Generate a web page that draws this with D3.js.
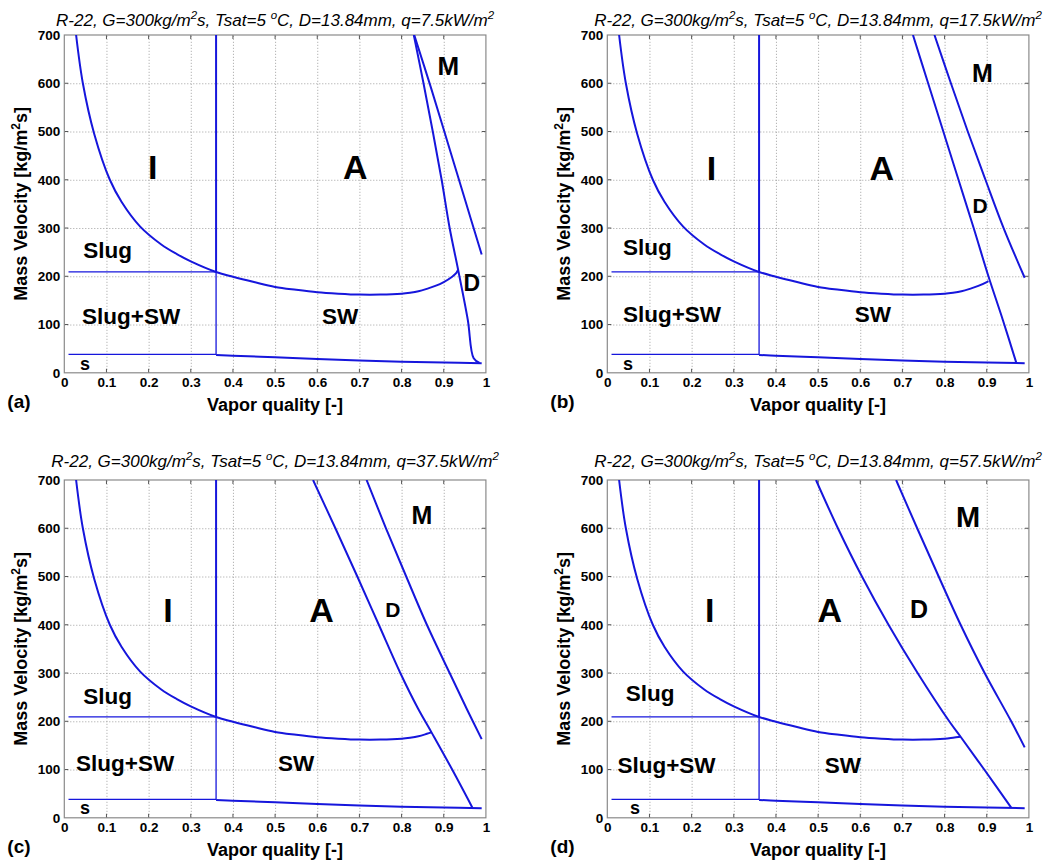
<!DOCTYPE html>
<html>
<head>
<meta charset="utf-8">
<script src="https://cdn.jsdelivr.net/npm/d3@7"></script>
<style>
  body { margin: 0; background: #fff; }
  svg { display: block; font-family: Arial, "Liberation Sans", sans-serif; }
  .grid line { stroke: #a0a0a0; stroke-dasharray: 1,2; }
  .tick-lbl text { font-size: 13.5px; font-weight: bold; fill: #000; }
</style>
</head>
<body>
<svg id="chart"></svg>
<script>
// ---- data ----
const panelIds = ["(a)", "(b)", "(c)", "(d)"];
const heatFlux = ["7.5", "17.5", "37.5", "57.5"];
const xTicks = [0, 0.1, 0.2, 0.3, 0.4, 0.5, 0.6, 0.7, 0.8, 0.9, 1];
const yTicks = [0, 100, 200, 300, 400, 500, 600, 700];

// I/A transition and the slug zone boundaries (same in every panel)
const xIA = 0.36;
const gIA = 209;
const gStratLeft = 38;
const qFirst = 0.01;

// stratified-wavy boundary, common part
const wavyQ = [0.028, 0.044, 0.071, 0.108, 0.136, 0.18, 0.23, 0.267, 0.30, 0.36, 0.40, 0.45, 0.50, 0.55, 0.60, 0.65, 0.70, 0.75, 0.80, 0.82, 0.84, 0.86, 0.88, 0.90, 0.92, 0.93];
const wavyG = [700, 600, 495, 400, 354, 303, 266, 246, 231, 209, 199, 188, 178, 172, 167, 164, 162, 162, 164, 166, 169, 174, 180, 188, 199, 207];
// where the wavy curve meets the dryout line, per panel
const wavyEnd = [[0.934, 214], [0.904, 190], [0.871, 177], [0.838, 168]];

// fully stratified boundary right of x_IA
const stratQ = [0.36, 0.40, 0.50, 0.60, 0.70, 0.80, 0.90, 0.99];
const stratG = [37, 35.5, 32, 28.5, 25.5, 23, 21.5, 20];

// dryout boundary (A / D), per panel
const dryoutA = [[0.829, 700], [0.852, 600], [0.874, 500], [0.895, 400], [0.914, 300], [0.934, 214], [0.957, 110], [0.971, 30], [0.985, 20.5]];
const dryoutB = [[0.725, 700], [0.761, 600], [0.797, 500], [0.833, 400], [0.869, 300], [0.904, 200], [0.938, 110], [0.970, 21]];
const dryoutC = [[0.59, 700], [0.643, 600], [0.695, 500], [0.746, 400], [0.797, 300], [0.838, 228], [0.871, 177], [0.92, 100], [0.968, 21]];
const dryoutD = [[0.495, 700], [0.547, 600], [0.604, 500], [0.667, 400], [0.736, 300], [0.811, 200], [0.838, 168], [0.894, 100], [0.958, 21]];

// mist boundary (D / M), per panel
const mistA = [[0.83, 700], [0.87, 590], [0.91, 475], [0.95, 360], [0.99, 245]];
const mistB = [[0.776, 700], [0.815, 600], [0.855, 500], [0.897, 400], [0.94, 300], [0.99, 197]];
const mistC = [[0.717, 700], [0.763, 600], [0.811, 500], [0.86, 400], [0.914, 300], [0.955, 225], [0.99, 163]];
const mistD = [[0.685, 700], [0.735, 600], [0.786, 500], [0.838, 400], [0.895, 300], [0.958, 200], [0.99, 146]];

const dryouts = [dryoutA, dryoutB, dryoutC, dryoutD];
const mists = [mistA, mistB, mistC, mistD];

const regionNames = ["I", "A", "M", "D", "Slug", "Slug+SW", "SW", "s"];

// ---- layout ----
const panelPos = [[64.3, 35], [607.3, 35], [64.3, 480], [607.3, 480]];
const width = 421.6, height = 337.8;
const titleGap = [9, 9, 13, 13];
const blue = "#1616dc";

// label anchor (in data units), font size, anchor – order follows regionNames
const labelLayout = [
  [[0.21, 402, 34, "middle"], [0.69, 402, 34, "middle"], [0.911, 617, 26, "middle"], [0.947, 170, 23, "start"],
   [0.045, 237, 22.5, "start"], [0.042, 101, 22.5, "start"], [0.611, 101, 22.5, "start"], [0.037, 6, 18, "start"]],
  [[0.247, 400, 34, "middle"], [0.651, 400, 34, "middle"], [0.89, 603, 25, "middle"], [0.866, 331, 21, "start"],
   [0.037, 244, 22.5, "start"], [0.037, 106, 22.5, "start"], [0.587, 106, 22.5, "start"], [0.037, 6, 18, "start"]],
  [[0.246, 405, 34, "middle"], [0.61, 405, 34, "middle"], [0.848, 609, 25, "middle"], [0.761, 417, 21, "start"],
   [0.045, 235, 22.5, "start"], [0.028, 97, 22.5, "start"], [0.507, 97, 22.5, "start"], [0.037, 8, 18, "start"]],
  [[0.243, 405, 34, "middle"], [0.528, 405, 34, "middle"], [0.856, 602, 29, "middle"], [0.718, 413, 25, "start"],
   [0.044, 242, 22.5, "start"], [0.024, 93, 22.5, "start"], [0.516, 93, 22.5, "start"], [0.054, 8, 18, "start"]]
];

const svg = d3.select("#chart")
  .attr("width", 1059)
  .attr("height", 861);

const x = d3.scaleLinear().domain([0, 1]).range([0, width]);
const y = d3.scaleLinear().domain([0, 700]).range([height, 0]);
const line = d3.line().x(d => x(d[0])).y(d => y(d[1]));
const smooth = d3.line().x(d => x(d[0])).y(d => y(d[1])).curve(d3.curveCatmullRom.alpha(0.5));

svg.append("defs").append("clipPath")
  .attr("id", "plot-clip")
  .append("rect")
  .attr("width", width)
  .attr("height", height);

panelIds.forEach((id, i) => {
  const [px, py] = panelPos[i];
  const g = svg.append("g").attr("transform", `translate(${px},${py})`);

  // grid
  g.append("g")
    .attr("class", "grid")
    .attr("transform", `translate(0,${height})`)
    .call(d3.axisBottom(x).tickValues(xTicks.slice(1, -1)).tickSize(-height).tickFormat(""))
    .call(s => s.select(".domain").remove());
  g.append("g")
    .attr("class", "grid")
    .call(d3.axisLeft(y).tickValues(yTicks.slice(1, -1)).tickSize(-width).tickFormat(""))
    .call(s => s.select(".domain").remove());

  // tick labels
  g.append("g")
    .attr("class", "tick-lbl")
    .attr("transform", `translate(0,${height})`)
    .call(d3.axisBottom(x).tickValues(xTicks).tickSize(0).tickPadding(5).tickFormat(d => String(d)))
    .call(s => s.select(".domain").remove());
  g.append("g")
    .attr("class", "tick-lbl")
    .call(d3.axisLeft(y).tickValues(yTicks).tickSize(0).tickPadding(4).tickFormat(d => String(d)))
    .call(s => s.select(".domain").remove());

  // inner tick marks on all four sides
  const tk = g.append("g").attr("stroke", "#555").attr("stroke-width", 1);
  xTicks.slice(1, -1).forEach(t => {
    tk.append("line").attr("x1", x(t)).attr("x2", x(t)).attr("y1", height).attr("y2", height - 4);
    tk.append("line").attr("x1", x(t)).attr("x2", x(t)).attr("y1", 0).attr("y2", 4);
  });
  yTicks.slice(1, -1).forEach(t => {
    tk.append("line").attr("x1", 0).attr("x2", 4).attr("y1", y(t)).attr("y2", y(t));
    tk.append("line").attr("x1", width).attr("x2", width - 4).attr("y1", y(t)).attr("y2", y(t));
  });

  // frame
  g.append("rect")
    .attr("width", width)
    .attr("height", height)
    .attr("fill", "none")
    .attr("stroke", "#8a8a8a")
    .attr("stroke-width", 1.2);

  const plot = g.append("g").attr("clip-path", "url(#plot-clip)")
    .attr("fill", "none")
    .attr("stroke", blue);

  // thin slug lines
  const thin = [
    [[qFirst, gIA], [xIA, gIA]],
    [[qFirst, gStratLeft], [xIA, gStratLeft]],
    [[xIA, gStratLeft], [xIA, gIA]]
  ];
  thin.forEach(seg => plot.append("path").attr("d", line(seg)).attr("stroke-width", 1.3));

  // x_IA above the wavy curve
  plot.append("path").attr("d", line([[xIA, gIA], [xIA, 700]])).attr("stroke-width", 2);

  // stratified-wavy curve, cut at the dryout line
  const end = wavyEnd[i];
  const wavy = wavyQ.map((q, k) => [q, wavyG[k]]).filter(d => d[0] < end[0]);
  wavy.push(end);
  plot.append("path").attr("d", smooth(wavy)).attr("stroke-width", 2);

  // stratified curve
  const strat = stratQ.map((q, k) => [q, stratG[k]]);
  plot.append("path").attr("d", smooth(strat)).attr("stroke-width", 2);

  // dryout and mist
  plot.append("path").attr("d", smooth(dryouts[i])).attr("stroke-width", 2);
  plot.append("path").attr("d", smooth(mists[i])).attr("stroke-width", 2);

  // region labels
  regionNames.forEach((name, k) => {
    const [lq, lg, fs, anchor] = labelLayout[i][k];
    g.append("text")
      .attr("x", x(lq))
      .attr("y", y(lg))
      .attr("text-anchor", anchor)
      .attr("font-size", fs)
      .attr("font-weight", "bold")
      .text(name);
  });

  // title
  const title = g.append("text")
    .attr("x", width / 2)
    .attr("y", -titleGap[i])
    .attr("text-anchor", "middle")
    .attr("font-size", 17)
    .attr("font-style", "italic");
  title.append("tspan").text("R-22, G=300kg/m");
  title.append("tspan").attr("font-size", 11.5).attr("dy", -7).text("2");
  title.append("tspan").attr("dy", 7).text("s, Tsat=5 ");
  title.append("tspan").attr("font-size", 11.5).attr("dy", -7).text("o");
  title.append("tspan").attr("dy", 7).text("C, D=13.84mm, q=" + heatFlux[i] + "kW/m");
  title.append("tspan").attr("font-size", 11.5).attr("dy", -7).text("2");

  // axis labels
  g.append("text")
    .attr("x", width / 2)
    .attr("y", height + 38)
    .attr("text-anchor", "middle")
    .attr("font-size", 18)
    .attr("font-weight", "bold")
    .text("Vapor quality [-]");

  const yl = g.append("text")
    .attr("transform", "rotate(-90)")
    .attr("x", -height / 2)
    .attr("y", -37)
    .attr("text-anchor", "middle")
    .attr("font-size", 18)
    .attr("font-weight", "bold");
  yl.append("tspan").text("Mass Velocity [kg/m");
  yl.append("tspan").attr("font-size", 12).attr("dy", -7).text("2");
  yl.append("tspan").attr("dy", 7).text("s]");

  g.append("text")
    .attr("x", -57)
    .attr("y", height + 35)
    .attr("font-size", 19)
    .attr("font-weight", "bold")
    .text(id);
});
</script>
</body>
</html>
